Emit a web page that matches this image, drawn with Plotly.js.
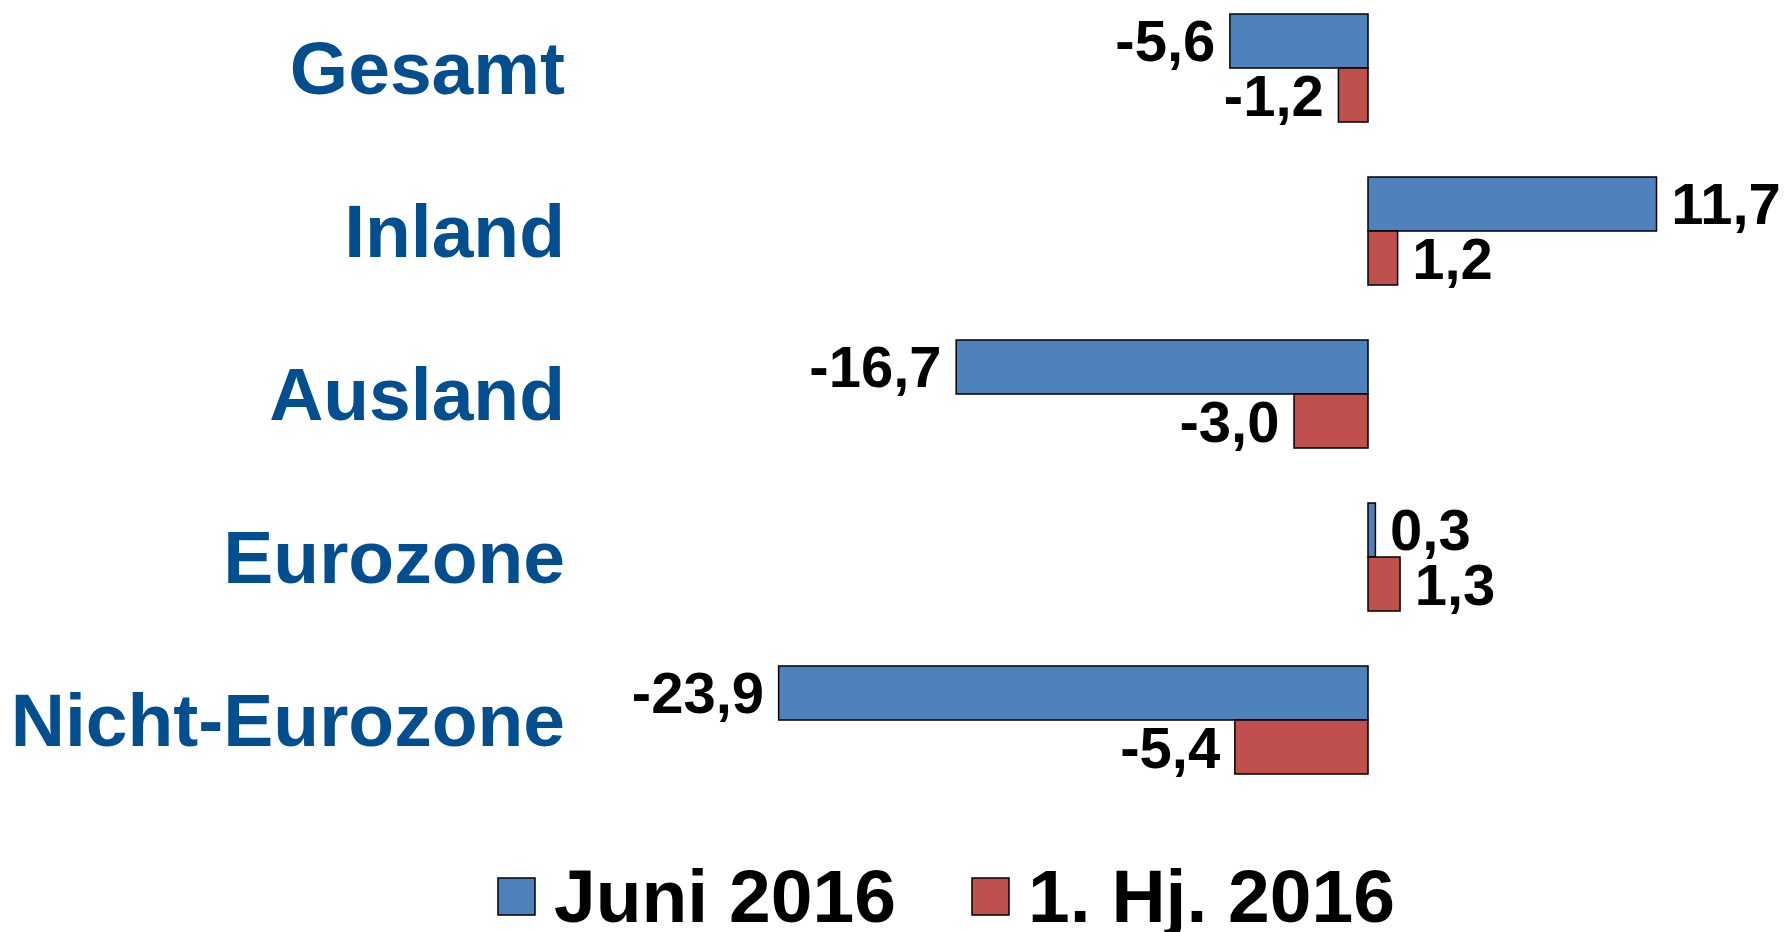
<!DOCTYPE html>
<html>
<head>
<meta charset="utf-8">
<script src="https://cdn.plot.ly/plotly-3.0.1.min.js"></script>
<style>html,body{margin:0;padding:0;background:#fff;}#chart{width:1787px;height:932px;}</style>
</head>
<body>
<div id="chart"></div>
<script>
const categories = ['Gesamt', 'Inland', 'Ausland', 'Eurozone', 'Nicht-Eurozone'];
const seriesNames = ['Juni 2016', '1. Hj. 2016'];
const juni2016 = [-5.6, 11.7, -16.7, 0.3, -23.9];
const hj2016 = [-1.2, 1.2, -3.0, 1.3, -5.4];
const seriesColors = ['#4F81BD', '#C0504D'];

const W = 1787, H = 932;
const M = {l: 566, r: 0, t: 0, b: 132};
const plotW = W - M.l - M.r, plotH = H - M.t - M.b;
const px2x = p => (p - M.l) / plotW;
const px2y = p => (H - M.b - p) / plotH;

const fmt = v => v.toFixed(1).replace('.', ',');
const lbl = v => v < 0 ? fmt(v) + '\u2009' : '\u2009' + fmt(v);

const FONT = 'Liberation Sans, Arial, sans-serif';

function barTrace(name, vals, color) {
  return {
    type: 'bar', orientation: 'h', name: name,
    y: categories, x: vals,
    text: vals.map(lbl), textposition: 'outside', constraintext: 'none', cliponaxis: false,
    textfont: {family: FONT, size: 58, color: '#000', weight: 'bold'},
    marker: {color: color, line: {color: '#000', width: 1.5}},
    hoverinfo: 'skip', showlegend: false
  };
}

const data = [
  barTrace(seriesNames[0], juni2016, seriesColors[0]),
  barTrace(seriesNames[1], hj2016, seriesColors[1])
];

// legend (drawn as paper shapes + text to match swatch size)
const legendItems = [
  {sq: 498, tx: 552},
  {sq: 972, tx: 1026}
];
const shapes = [], annotations = [];
legendItems.forEach((it, i) => {
  shapes.push({type: 'rect', xref: 'paper', yref: 'paper',
    x0: px2x(it.sq), x1: px2x(it.sq + 37), y0: px2y(915), y1: px2y(878),
    fillcolor: seriesColors[i], line: {color: '#000', width: 1.5}});
  annotations.push({xref: 'paper', yref: 'paper', x: px2x(it.tx), y: px2y(896),
    xanchor: 'left', yanchor: 'middle', showarrow: false, text: seriesNames[i],
    font: {family: FONT, size: 75, color: '#000', weight: 'bold'}});
});

const zeroPx = 1368, unitPx = 24.66;
const layout = {
  width: W, height: H, margin: M,
  paper_bgcolor: '#fff', plot_bgcolor: '#fff',
  separators: ',.',
  barmode: 'group', bargap: 0.337, bargroupgap: 0,
  showlegend: false,
  xaxis: {range: [-(zeroPx - M.l) / unitPx, (W - M.r - zeroPx) / unitPx],
          showgrid: false, zeroline: false, showticklabels: false, showline: false, fixedrange: true},
  yaxis: {type: 'category', categoryarray: categories, categoryorder: 'array',
          range: [(H - M.b - 68) / 163 , -68 / 163],
          showgrid: false, zeroline: false, showline: false, ticks: '', automargin: false,
          tickfont: {family: FONT, size: 75, color: '#034E8F', weight: 'bold'}},
  shapes: shapes, annotations: annotations
};

Plotly.newPlot('chart', data, layout, {displayModeBar: false, staticPlot: true});
</script>
</body>
</html>
